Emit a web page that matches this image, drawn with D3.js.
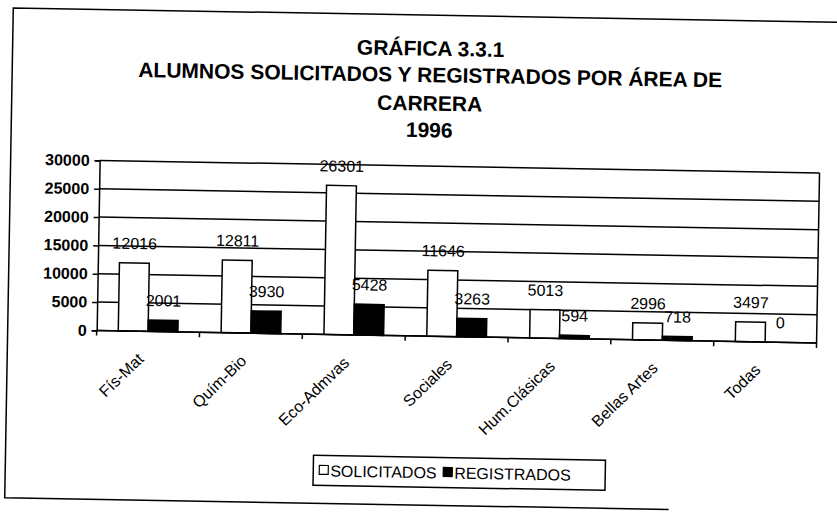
<html>
<head>
<title>Grafica 3.3.1</title>
<script src="https://d3js.org/d3.v7.min.js"></script>
<style>
    body { margin: 0; background: #fff; }
    text { font-family: "Liberation Sans", Arial, sans-serif; fill: #000; }
</style>
</head>
<body>
    <div id="chart"></div>

    <script type="text/javascript">
        // data
        var categories = ["Fís-Mat", "Quím-Bio", "Eco-Admvas", "Sociales", "Hum.Clásicas", "Bellas Artes", "Todas"];
        var solicitados = [12016, 12811, 26301, 11646, 5013, 2996, 3497];
        var registrados = [2001, 3930, 5428, 3263, 594, 718, 0];
        var seriesNames = ["SOLICITADOS", "REGISTRADOS"];
        var seriesColors = ["#fff", "#000"];
        var yTicks = [0, 5000, 10000, 15000, 20000, 25000, 30000];
        var titleLines = ["GRÁFICA 3.3.1", "ALUMNOS SOLICITADOS Y REGISTRADOS POR ÁREA DE", "CARRERA", "1996"];

        var W = 837, H = 514;
        var margin = {top: 166, left: 98, right: 19, bottom: 178};
        var width = W - margin.left - margin.right;
        var height = H - margin.top - margin.bottom;

        var svg = d3.select("#chart").append("svg")
            .attr("width", W)
            .attr("height", H);

        svg.append("rect").attr("width", W).attr("height", H).attr("fill", "#fff");

        // the scan is tilted about one degree, so everything sits in a rotated group
        var root = svg.append("g").attr("transform", "rotate(1, 418, 257)");

        // outer frame (right side is off the page in the scan)
        root.append("path")
            .attr("d", "M 860 15 L 9 15 L 9 505 L 673 505")
            .attr("fill", "none")
            .attr("stroke", "#000")
            .attr("stroke-width", 1.5);

        // title
        root.selectAll(".title")
            .data(titleLines)
            .enter()
            .append("text")
            .attr("class", "title")
            .attr("x", 427)
            .attr("y", function(d, i) { return [55.5, 82, 110.5, 137][i]; })
            .attr("text-anchor", "middle")
            .style("font-size", "21px")
            .style("font-weight", "bold")
            .text(function(d) { return d; });

        var g = root.append("g")
            .attr("transform", "translate(" + margin.left + "," + margin.top + ")");

        // scales
        var x0 = d3.scaleBand().domain(categories).range([0, width]).paddingInner(0.42).paddingOuter(0.21);
        var x1 = d3.scaleBand().domain(seriesNames).range([0, x0.bandwidth()]);
        var y = d3.scaleLinear().domain([0, 30000]).range([height, 0]);

        // gridlines
        g.selectAll(".grid")
            .data(yTicks)
            .enter()
            .append("line")
            .attr("x1", 0)
            .attr("x2", width)
            .attr("y1", function(d) { return y(d); })
            .attr("y2", function(d) { return y(d); })
            .attr("stroke", "#000")
            .attr("stroke-width", 1.5);

        // right border of plot area
        g.append("line")
            .attr("x1", width).attr("x2", width)
            .attr("y1", 0).attr("y2", height)
            .attr("stroke", "#000")
            .attr("stroke-width", 1.5);

        var data = categories.map(function(c, i) {
            return {cat: c, values: [solicitados[i], registrados[i]]};
        });

        var groups = g.selectAll(".group")
            .data(data)
            .enter()
            .append("g")
            .attr("transform", function(d) { return "translate(" + x0(d.cat) + ",0)"; });

        groups.selectAll("rect")
            .data(function(d) { return d.values.map(function(v, j) { return {name: seriesNames[j], v: v, j: j}; }); })
            .enter()
            .append("rect")
            .attr("x", function(d) { return x1(d.name); })
            .attr("width", x1.bandwidth())
            .attr("y", function(d) { return y(d.v); })
            .attr("height", function(d) { return height - y(d.v); })
            .attr("fill", function(d) { return seriesColors[d.j]; })
            .attr("stroke", "#000")
            .attr("stroke-width", 1.5);

        // data labels
        groups.selectAll(".lbl")
            .data(function(d) { return d.values.map(function(v, j) { return {name: seriesNames[j], v: v}; }); })
            .enter()
            .append("text")
            .attr("class", "lbl")
            .attr("x", function(d) { return x1(d.name) + x1.bandwidth() / 2; })
            .attr("y", function(d) { return y(d.v) - 14; })
            .attr("text-anchor", "middle")
            .style("font-size", "16px")
            .text(function(d) { return d.v; });

        // y axis
        var yAxis = g.append("g")
            .call(d3.axisLeft(y).tickValues(yTicks).tickSize(5).tickPadding(5).tickFormat(d3.format("d")));
        yAxis.select(".domain").attr("stroke-width", 1.5);
        yAxis.selectAll(".tick line").attr("stroke-width", 1.5);
        yAxis.selectAll("text")
            .style("font-size", "16px")
            .style("font-weight", "bold")
            .style("font-family", "Liberation Sans, Arial, sans-serif");

        // x axis: ticks at category boundaries
        var xAxis = g.append("g").attr("transform", "translate(0," + height + ")");
        xAxis.append("line")
            .attr("x1", 0).attr("x2", width)
            .attr("stroke", "#000").attr("stroke-width", 1.5);
        xAxis.selectAll(".xtick")
            .data(d3.range(categories.length + 1))
            .enter()
            .append("line")
            .attr("x1", function(i) { return i * x0.step(); })
            .attr("x2", function(i) { return i * x0.step(); })
            .attr("y1", 0).attr("y2", 5)
            .attr("stroke", "#000").attr("stroke-width", 1.5);
        xAxis.selectAll(".xlbl")
            .data(categories)
            .enter()
            .append("text")
            .attr("text-anchor", "end")
            .attr("transform", function(d) {
                var cx = x0(d) + x0.bandwidth() / 2 - 3;
                return "translate(" + cx + ",29) rotate(-45)";
            })
            .style("font-size", "16px")
            .text(function(d) { return d; });

        // legend
        var legend = root.append("g").attr("transform", "translate(317,457)");
        legend.append("rect")
            .attr("width", 292).attr("height", 30)
            .attr("fill", "#fff").attr("stroke", "#000").attr("stroke-width", 1.5);
        var legX = [6, 130];
        seriesNames.forEach(function(s, i) {
            legend.append("rect")
                .attr("x", legX[i]).attr("y", 10)
                .attr("width", 9).attr("height", 9)
                .attr("fill", seriesColors[i]).attr("stroke", "#000").attr("stroke-width", 1.2);
            legend.append("text")
                .attr("x", legX[i] + 11).attr("y", 21)
                .style("font-size", "16px")
                .text(s);
        });
    </script>
</body>
</html>
